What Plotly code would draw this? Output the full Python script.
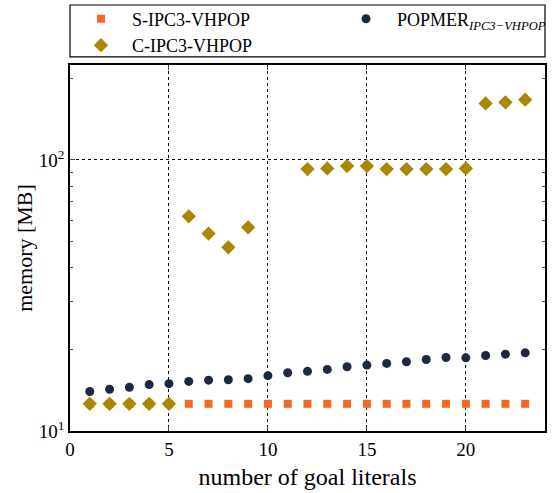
import plotly.graph_objects as go

# number of goal literals
goals = list(range(1, 24))

# memory usage [MB]
s_ipc3 = [12.6] * 23

c_ipc3_x = [1, 2, 3, 4, 5, 6, 7, 8, 9, 12, 13, 14, 15, 16, 17, 18, 19, 20, 21, 22, 23]
c_ipc3 = [12.6, 12.6, 12.6, 12.6, 12.6, 61.9, 53.5, 47.6, 56.4,
          92.5, 93.0, 94.9, 94.9, 92.5, 92.5, 92.5, 92.5, 93.0,
          161.5, 163.0, 166.7]

popmer = [13.98, 14.25, 14.5, 14.83, 14.95, 15.24, 15.4, 15.45, 15.6, 16.0,
          16.4, 16.6, 16.87, 17.25, 17.5, 17.75, 18.0, 18.35, 18.67, 18.62,
          18.98, 19.2, 19.42]

x_ticks = [0, 5, 10, 15, 20]
y_ticks = [10, 100]
y_tick_text = ["10<sup>1</sup>", "10<sup>2</sup>"]
y_minor = [20, 30, 40, 50, 60, 70, 80, 90, 200]

FONT = "Liberation Serif"
ORANGE = "#F5691E"
GOLD = "#A88800"
NAVY = "#1B2A40"

fig = go.Figure()
fig.add_trace(go.Scatter(
    x=goals, y=s_ipc3, mode="markers", name="S-IPC3-VHPOP",
    legend="legend", legendrank=1,
    marker=dict(symbol="square", size=8, color=ORANGE),
))
fig.add_trace(go.Scatter(
    x=goals, y=popmer, mode="markers", legend="legend2",
    name="POPMER<sub><i>IPC3−VHPOP</i></sub>",
    marker=dict(symbol="circle", size=9, color=NAVY),
))
fig.add_trace(go.Scatter(
    x=c_ipc3_x, y=c_ipc3, mode="markers", name="C-IPC3-VHPOP",
    legend="legend", legendrank=2,
    marker=dict(symbol="diamond", size=11, color=GOLD),
))

legend_style = dict(
    orientation="v", yanchor="top", xanchor="left",
    bgcolor="rgba(0,0,0,0)", borderwidth=0,
    font=dict(family=FONT, size=18), itemwidth=52, tracegroupgap=0,
)

fig.update_layout(
    width=553, height=493,
    margin=dict(l=70, r=8, t=65, b=62, autoexpand=False),
    plot_bgcolor="white", paper_bgcolor="white",
    font=dict(family=FONT, size=18, color="black"),
    showlegend=True,
    legend=dict(x=0.0, y=1.176, **legend_style),
    legend2=dict(x=0.558, y=1.176, **legend_style),
    shapes=[dict(
        type="rect", xref="paper", yref="paper",
        x0=0, x1=1, y0=1.022, y1=1.164,
        line=dict(color="black", width=1.2), fillcolor="rgba(0,0,0,0)",
    )],
    xaxis=dict(
        range=[0, 24], tickvals=x_ticks, ticks="inside", ticklen=5,
        showline=True, linecolor="black", linewidth=1.5, mirror="ticks",
        showgrid=True, gridcolor="black", griddash="dot", gridwidth=1,
        zeroline=False,
        title=dict(text="number of goal literals", font=dict(size=24), standoff=10),
        tickfont=dict(size=19),
    ),
    yaxis=dict(
        type="log", range=[1, 2.35], tickvals=y_ticks, ticktext=y_tick_text,
        ticks="inside", ticklen=5,
        minor=dict(tickvals=y_minor, ticks="inside", ticklen=3, showgrid=False),
        showline=True, linecolor="black", linewidth=1.5, mirror="ticks",
        showgrid=True, gridcolor="black", griddash="dot", gridwidth=1,
        zeroline=False,
        title=dict(text="memory [MB]", font=dict(size=22), standoff=0),
        tickfont=dict(size=19),
    ),
)

fig.write_html("out.html")
